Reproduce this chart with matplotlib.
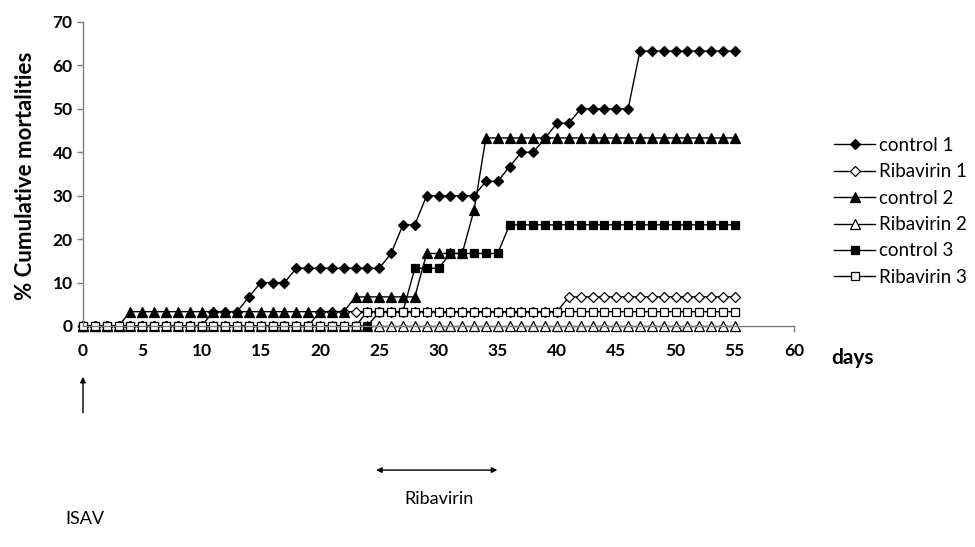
import matplotlib
matplotlib.use("Agg")
import matplotlib.pyplot as plt
import numpy as np

days = list(range(0, 56))

control1 = ([0]*11 + [3.3]*3 + [6.7] + [10]*3 + [13.3]*8 + [16.7] + [23.3]*2 +
            [30]*5 + [33.3]*2 + [36.7] + [40]*2 + [43.3] + [46.7]*2 + [50]*5 + [63.3]*9)
ribavirin1 = [0]*20 + [3.3]*21 + [6.7]*15
control2 = [0]*4 + [3.3]*19 + [6.7]*6 + [16.7]*4 + [26.7] + [43.3]*22
ribavirin2 = [0]*56
control3 = [0]*25 + [3.3]*3 + [13.3]*3 + [16.7]*5 + [23.3]*20
ribavirin3 = [0]*24 + [3.3]*32

series = [
    ("control 1", control1, "D", "black", 5.5),
    ("Ribavirin 1", ribavirin1, "D", "white", 5.5),
    ("control 2", control2, "^", "black", 6.5),
    ("Ribavirin 2", ribavirin2, "^", "white", 6.5),
    ("control 3", control3, "s", "black", 5.5),
    ("Ribavirin 3", ribavirin3, "s", "white", 5.5),
]

plt.rcParams['font.family'] = ['Lato', 'DejaVu Sans']

fig = plt.figure(figsize=(9.75, 5.47), dpi=100)
ax = fig.add_axes([83/975, 1-326/547, (794-83)/975, (326-22)/547])

for name, vals, mk, fc, ms in series:
    ax.plot(days, vals, color="black", lw=1.0, marker=mk, markersize=ms,
            markerfacecolor=fc, markeredgecolor="black", markeredgewidth=0.9,
            label=name, clip_on=False)

ax.set_xlim(0, 60)
ax.set_ylim(0, 70)
ax.set_xticks(range(0, 61, 5))
ax.set_yticks(range(0, 71, 10))
for s in ["top", "right"]:
    ax.spines[s].set_visible(False)
for s in ["left", "bottom"]:
    ax.spines[s].set_color("#7f7f7f")
    ax.spines[s].set_linewidth(1.0)
ax.tick_params(axis="both", colors="#7f7f7f", length=4, width=1.0, labelcolor="black",
               labelsize=12.5)
ax.tick_params(axis="x", pad=8)
for lbl in ax.get_xticklabels() + ax.get_yticklabels():
    lbl.set_fontweight("bold")

fig.text(0.026, 1-176/547, "% Cumulative mortalities", rotation=90, ha="center", va="center",
         fontsize=16, fontweight="bold")
ax.text(64.9, -0.105, "days", transform=ax.get_xaxis_transform(), ha="center", va="center",
        fontsize=15, fontweight="bold")

tr = ax.get_xaxis_transform()
ax.annotate("", xy=(0, -0.158), xytext=(0, -0.295), xycoords=tr, textcoords=tr,
            arrowprops=dict(arrowstyle="-|>", color="black", lw=1.0, mutation_scale=8))
ax.text(0.2, -0.635, "ISAV", transform=tr, ha="center", va="center", fontsize=13)
ax.annotate("", xy=(24.5, -0.474), xytext=(35.2, -0.474), xycoords=tr, textcoords=tr,
            arrowprops=dict(arrowstyle="<|-|>", color="black", lw=1.0, mutation_scale=8))
ax.text(30, -0.57, "Ribavirin", transform=tr, ha="center", va="center", fontsize=13)

leg = fig.legend(loc="upper left", bbox_to_anchor=(834/975, 1-137/547), frameon=False,
                 fontsize=13.5, handlelength=2.2, labelspacing=0.5, handletextpad=0.2,
                 borderaxespad=0, borderpad=0)

fig.savefig("out.png", dpi=100)
